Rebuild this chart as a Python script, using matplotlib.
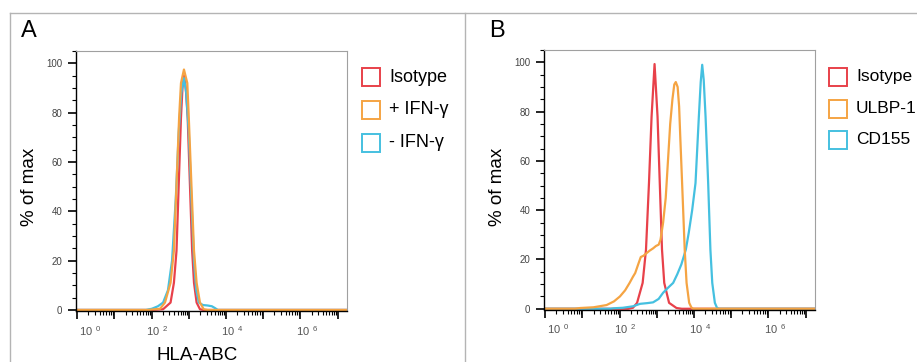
"""Flow cytometry histograms: HLA-ABC (A) and ligands (B)."""

import matplotlib
matplotlib.use("Agg")
from matplotlib import pyplot as plt
from matplotlib.lines import Line2D
from matplotlib.patches import Rectangle
from matplotlib.ticker import FixedLocator, LogLocator, MultipleLocator, NullFormatter
import numpy as np

plt.rcParams["font.family"] = ["Liberation Sans", "DejaVu Sans"]
plt.rcParams["mathtext.default"] = "regular"

RED, ORANGE, CYAN = "#e8414a", "#f5a443", "#45c0e0"
W, H = 917, 362

# Panel A, x = log10 intensity, y = % of max
a_iso_log = [-0.5, 2.01, 2.31, 2.51, 2.60, 2.67, 2.73, 2.79, 2.83, 2.87, 2.92,
             2.97, 3.03, 3.09, 3.14, 3.21, 3.30, 3.40, 7.5]
a_iso_pct = [0, 0, 0.3, 3, 11, 24, 51, 78, 90, 95, 90,
             78, 51, 24, 11, 3, 0.3, 0, 0]
a_minus_log = [-0.5, 1.85, 2.01, 2.17, 2.31, 2.44, 2.55, 2.65, 2.73, 2.80, 2.87,
               2.93, 3.00, 3.07, 3.14, 3.20, 3.27, 3.38, 3.51, 3.62, 3.70, 3.78, 7.5]
a_minus_pct = [0, 0, 0.5, 1.5, 3, 8, 20, 45, 72, 88, 94,
               88, 72, 45, 20, 8, 3, 2, 1.8, 1.5, 0.8, 0, 0]
a_plus_log = [-0.5, 1.90, 2.23, 2.36, 2.51, 2.60, 2.67, 2.74, 2.79, 2.87, 2.96,
              3.00, 3.07, 3.14, 3.21, 3.30, 3.40, 3.51, 7.5]
a_plus_pct = [0, 0, 0.5, 3, 11, 24, 51, 78, 92, 97.5, 92,
              78, 51, 24, 11, 3, 0.3, 0, 0]

# Panel B
b_iso_log = [-0.5, 2.23, 2.36, 2.47, 2.62, 2.71, 2.79, 2.86, 2.94, 3.02, 3.08,
             3.14, 3.20, 3.33, 3.53, 3.67, 7.5]
b_iso_pct = [0, 0, 0.4, 2.4, 10.5, 24, 51, 78, 99.3, 78, 51,
             24, 10.5, 2.4, 0.3, 0, 0]
b_cd155_log = [-0.5, 1.75, 1.85, 2.09, 2.36, 2.55, 2.75, 2.90, 3.05, 3.17, 3.30,
               3.44, 3.55, 3.66, 3.78, 3.86, 3.95, 4.04, 4.13, 4.18, 4.22, 4.26,
               4.31, 4.38, 4.44, 4.49, 4.56, 4.62, 4.68, 7.5]
b_cd155_pct = [0, 0, 0.2, 0.4, 1.0, 2.0, 2.3, 2.6, 4, 6.5, 8.5,
               10.5, 14, 18, 24, 31, 40, 51, 78, 92, 99, 93,
               78, 51, 24, 10.5, 2.4, 0.3, 0, 0]
b_ulbp_log = [-0.5, 0.80, 0.94, 1.30, 1.65, 1.85, 2.01, 2.15, 2.27, 2.36, 2.42,
              2.50, 2.57, 2.64, 2.72, 2.80, 2.90, 2.98, 3.05, 3.10, 3.17, 3.24,
              3.30, 3.36, 3.42, 3.47, 3.51, 3.56, 3.60, 3.63, 3.68, 3.75, 3.80,
              3.87, 3.93, 3.98, 7.5]
b_ulbp_pct = [0, 0, 0.3, 0.6, 1.5, 3, 5, 7.5, 10.5, 13, 14.5,
              18, 21, 21.5, 22.5, 23.5, 24.5, 25.5, 26, 28, 35, 45,
              60, 75, 85, 91, 92, 90, 82, 70, 51, 24, 10.5,
              2.4, 0.5, 0, 0]

exp_labels = ["0", "2", "4", "6"]
exp_label_pos = [0.35, 2.16, 4.16, 6.17]


def fx(px):
    return px / W


def fy(py):
    return 1 - py / H


def draw_panel(ax, curves, letter, legend, lx, ly, lsize=13):
    """Draw one histogram panel with its axes, label and legend."""
    for xs, ys, color in curves:
        ax.plot(10 ** np.asarray(xs), ys, color=color, lw=1.6)
    ax.set_xscale("log")
    ax.set_xlim(10 ** -0.03, 10 ** 7.25)
    ax.set_ylim(-0.3, 105)

    ax.xaxis.set_major_locator(FixedLocator(10.0 ** np.arange(0, 8)))
    ax.xaxis.set_minor_locator(LogLocator(base=10, subs=np.arange(2, 10), numticks=20))
    ax.xaxis.set_major_formatter(NullFormatter())
    ax.xaxis.set_minor_formatter(NullFormatter())
    ax.yaxis.set_major_locator(MultipleLocator(20))
    ax.yaxis.set_minor_locator(MultipleLocator(5))
    ax.tick_params(which="major", length=5.8, width=1.2, color="black",
                   labelsize=7, labelcolor="#444444", pad=4)
    ax.tick_params(which="minor", length=3, width=0.8, color="black")
    for side in ("top", "right"):
        ax.spines[side].set_color("#a0a0a0")
        ax.spines[side].set_linewidth(0.8)
    ax.spines["left"].set_linewidth(1.0)
    ax.spines["bottom"].set_linewidth(1.0)

    for lab, pos in zip(exp_labels, exp_label_pos):
        ax.annotate("10$^{\\ \\,%s}$" % lab, xy=(10 ** pos, 0),
                    xycoords=ax.get_xaxis_transform(), xytext=(0, -14.4),
                    textcoords="offset points", ha="center", va="center",
                    fontsize=8, color="#555555")

    fig = ax.figure
    pos = ax.get_position()
    fig.text(pos.x0 - fx(55), fy(20), letter, fontsize=17, va="top", ha="left")
    fig.text(pos.x0 - fx(46), fy(187), "% of max", rotation=90,
             fontsize=13.5, ha="center", va="center")

    for i, (name, color) in enumerate(legend):
        cy = ly[i]
        fig.add_artist(Rectangle((fx(lx), fy(cy + 9)), fx(18), 18 / H,
                                 transform=fig.transFigure, fill=False,
                                 ec=color, lw=1.4))
        fig.text(fx(lx + 27), fy(cy), name, fontsize=lsize, va="center", ha="left")


fig = plt.figure(figsize=(W / 100, H / 100), dpi=100)
ax_a = fig.add_axes([fx(76), fy(310.7), fx(271), 259.7 / H])
ax_b = fig.add_axes([fx(544), fy(309.5), fx(271), 259.5 / H])

draw_panel(
    ax_a,
    [(a_iso_log, a_iso_pct, RED), (a_minus_log, a_minus_pct, CYAN),
     (a_plus_log, a_plus_pct, ORANGE)],
    "A",
    [("Isotype", RED), ("+ IFN-γ", ORANGE), ("- IFN-γ", CYAN)],
    362, [77, 110, 143],
)
draw_panel(
    ax_b,
    [(b_iso_log, b_iso_pct, RED), (b_cd155_log, b_cd155_pct, CYAN),
     (b_ulbp_log, b_ulbp_pct, ORANGE)],
    "B",
    [("Isotype", RED), ("ULBP-1", ORANGE), ("CD155", CYAN)],
    829, [77, 108.5, 140], lsize=12.5,
)
fig.text(fx(197), fy(355), "HLA-ABC", fontsize=13.5, ha="center", va="center")

# panel frame lines
frame = dict(color="#b4b4b4", lw=1.0, transform=fig.transFigure)
fig.add_artist(Line2D([fx(10), 1], [fy(12.5), fy(12.5)], **frame))
fig.add_artist(Line2D([fx(10), fx(10)], [fy(12.5), 0], **frame))
fig.add_artist(Line2D([fx(465), fx(465)], [fy(12.5), 0], **frame))

fig.savefig("out.png", dpi=100)
